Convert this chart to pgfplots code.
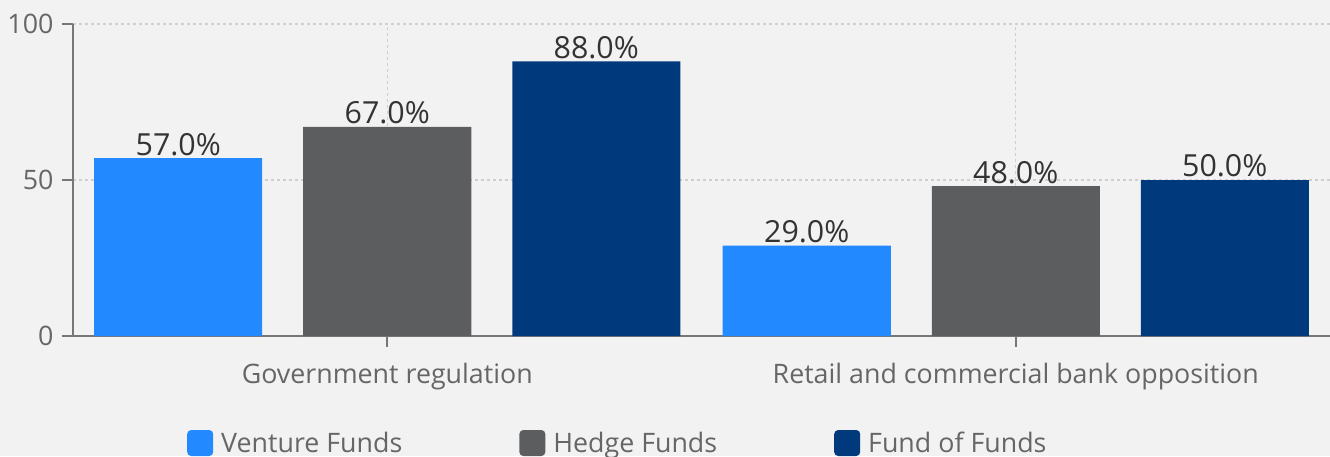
\documentclass[border=0pt]{standalone}
\usepackage{pgfplots}
\pgfplotsset{compat=1.18}
\usepackage{fontspec}
\setmainfont{Open Sans}
\definecolor{bg}{HTML}{F2F2F2}
\definecolor{venture}{HTML}{2389FF}
\definecolor{hedge}{HTML}{5C5D5F}
\definecolor{fof}{HTML}{003A7C}
\definecolor{axisgray}{HTML}{777777}
\definecolor{ticktext}{HTML}{666666}
\definecolor{valtext}{HTML}{333333}
\definecolor{gridc}{HTML}{CFCFCF}
\begin{document}
\begin{tikzpicture}
\fill[bg] (-73pt,-120pt) rectangle (1257pt,336pt);
\begin{axis}[
  scale only axis, width=1257pt, height=312pt,
  xmin=-0.5, xmax=1.5, ymin=0, ymax=100,
  xtick={0,1},
  xticklabels={Government regulation, Retail and commercial bank opposition},
  ytick={0,50,100},
  axis x line*=bottom, axis y line*=left,
  axis line style={axisgray, line width=1.6pt, -},
  tick style={axisgray, line width=1.6pt},
  tick align=outside, major tick length=11pt,
  grid=major,
  major grid style={gridc, line width=1.3pt, dash pattern=on 3pt off 3pt},
  tick label style={font=\fontsize{26.8}{32}\selectfont, text=ticktext},
  xticklabel style={yshift=-13pt},
  yticklabel style={xshift=-5pt},
  /pgf/number format/assume math mode=true,
  point meta=y,
  nodes near coords={\pgfmathprintnumber[fixed, fixed zerofill, precision=1]{\pgfplotspointmeta}\%},
  nodes near coords style={font=\fontsize{30.4}{36}\selectfont, text=valtext, anchor=south, inner sep=2.5pt},
  legend columns=3,
  legend style={draw=none, fill=none, inner sep=0pt, at={(0.0907,-0.343)}, anchor=west,
    font=\fontsize{26.8}{32}\selectfont, text=ticktext,
    /tikz/every even column/.append style={column sep=115pt}},
  legend cell align=left,
  legend image code/.code={\fill[#1, rounded corners=4pt] (0pt,-13pt) rectangle (26pt,13pt); \path (32pt,0pt);},
]
\addplot[ybar, bar width=168pt, bar shift=-209pt, fill=venture, draw=none,
  every node near coord/.append style={xshift=-209pt}] coordinates {(0,57) (1,29)};
\addplot[ybar, bar width=168pt, bar shift=0pt, fill=hedge, draw=none] coordinates {(0,67) (1,48)};
\addplot[ybar, bar width=168pt, bar shift=209pt, fill=fof, draw=none,
  every node near coord/.append style={xshift=209pt}] coordinates {(0,88) (1,50)};
\legend{Venture Funds, Hedge Funds, Fund of Funds}
\end{axis}
\pgfresetboundingbox
\path[use as bounding box] (-73pt,-120pt) rectangle (1257pt,336pt);
\end{tikzpicture}
\end{document}
